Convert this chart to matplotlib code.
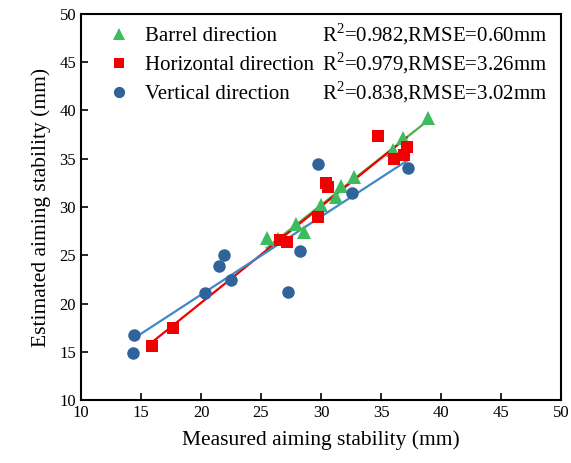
import numpy as np
import matplotlib
matplotlib.use("Agg")
import matplotlib.pyplot as plt

plt.rcParams['font.family'] = ['Liberation Serif', 'DejaVu Serif']
plt.rcParams['mathtext.fontset'] = 'custom'
plt.rcParams['mathtext.rm'] = 'Liberation Serif'

# Data
barrel_x = [25.47, 26.44, 27.89, 28.61, 30.00, 31.25, 31.64, 32.78, 35.97, 36.86, 38.94]
barrel_y = [26.76, 26.65, 28.24, 27.38, 30.21, 31.07, 32.18, 33.08, 35.91, 37.12, 39.19]

horiz_x = [15.89, 17.69, 26.58, 27.14, 29.73, 30.42, 30.56, 34.78, 36.08, 36.92, 37.14]
horiz_y = [15.60, 17.49, 26.58, 26.40, 29.00, 32.52, 32.04, 37.36, 34.94, 35.39, 36.25]

vert_x = [14.44, 14.36, 20.33, 21.50, 21.92, 22.47, 27.28, 28.25, 29.71, 32.61, 37.23]
vert_y = [16.74, 14.84, 21.06, 23.92, 25.03, 22.44, 21.16, 25.44, 34.46, 31.42, 34.07]

labels = ["Barrel direction", "Horizontal direction", "Vertical direction"]
stats = ["R$^2$=0.982,RMSE=0.60mm", "R$^2$=0.979,RMSE=3.26mm", "R$^2$=0.838,RMSE=3.02mm"]

fig = plt.figure(figsize=(5.71, 4.63), dpi=100)
ax = fig.add_axes([0.1419, 0.136, 0.8406, 0.8338])

series = [
    (barrel_x, barrel_y, '^', '#3dbb5e', '#4cae4c', 10),
    (horiz_x, horiz_y, 's', '#f00000', '#f00000', 8),
    (vert_x, vert_y, 'o', '#2f6399', '#3d88c8', 9),
]

handles = []
for (x, y, m, c, lc, ms), lab in zip(series, labels):
    x = np.asarray(x); y = np.asarray(y)
    k, b = np.polyfit(x, y, 1)
    xx = np.array([x.min(), x.max()])
    ax.plot(xx, k * xx + b, color=lc, lw=1.6, zorder=2)
    h, = ax.plot(x, y, linestyle='none', marker=m, color=c, markersize=ms,
                 markeredgewidth=0, zorder=3, label=lab)
    handles.append(h)

leg = ax.legend(handles=handles, loc='upper left', frameon=False, fontsize=15,
                handlelength=1.0, handletextpad=0.75, borderaxespad=0.2,
                labelspacing=0.45, markerscale=0.9, bbox_to_anchor=(0.032, 1.0))

ys = [0.948, 0.873, 0.798]
for s, yy in zip(stats, ys):
    ax.text(0.502, yy, s, transform=ax.transAxes, fontsize=15, va='center', ha='left')

ax.set_xlim(10, 50)
ax.set_ylim(10, 50)
ax.set_xticks(np.arange(10, 51, 5))
ax.set_yticks(np.arange(10, 51, 5))
ax.tick_params(direction='in', length=5, width=1.2, labelsize=12, top=False, right=False)
for sp in ax.spines.values():
    sp.set_linewidth(1.5)
ax.set_xlabel("Measured aiming stability (mm)", fontsize=15.5, labelpad=7)
ax.set_ylabel("Estimated aiming stability (mm)", fontsize=15.5, labelpad=6)

fig.savefig("out.png", dpi=100)
